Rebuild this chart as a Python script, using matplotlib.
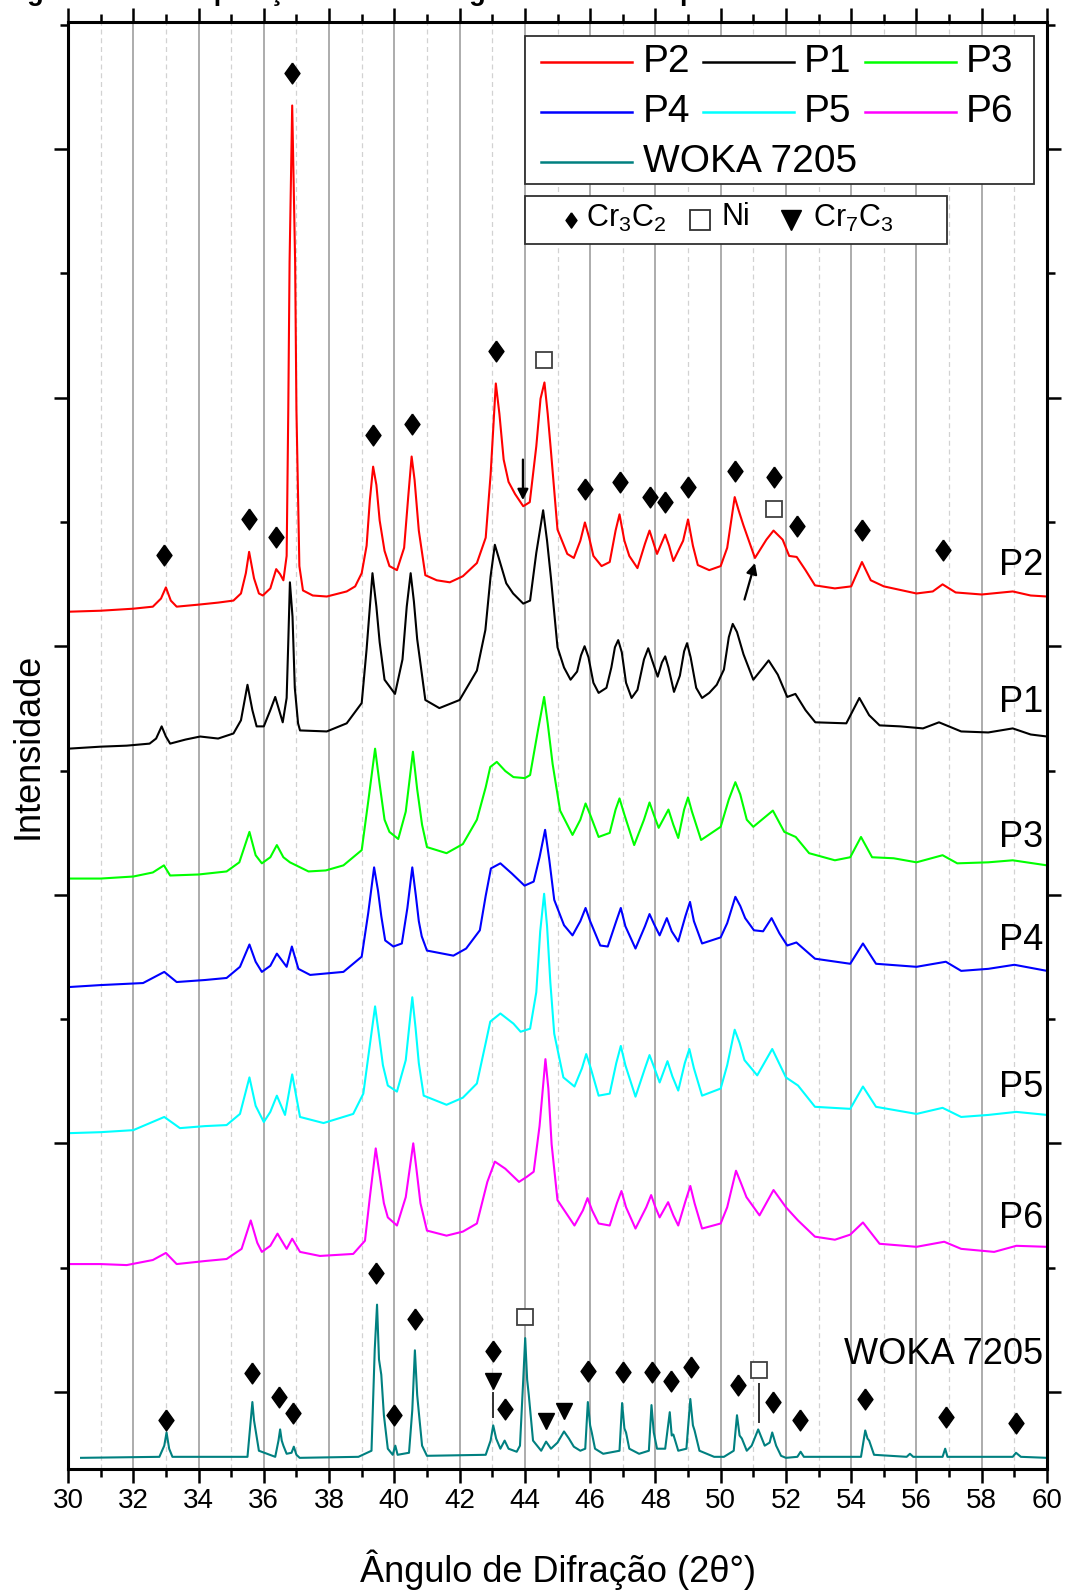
import numpy as np
import matplotlib
matplotlib.use("Agg")
import matplotlib.pyplot as plt
from matplotlib.ticker import FixedLocator, MultipleLocator, NullFormatter
from matplotlib.patches import Rectangle
from matplotlib.lines import Line2D

plt.rcParams['font.family'] = ['Liberation Sans', 'DejaVu Sans']
plt.rcParams['mathtext.fontset'] = 'custom'
plt.rcParams['mathtext.rm'] = 'Liberation Sans'
plt.rcParams['mathtext.it'] = 'Liberation Sans:italic'

# ---------------- diffraction patterns (2theta, stacked intensity a.u.) ----------------
P2 = [(30.0, 845), (31.0, 846), (32.0, 848), (32.6, 850), (32.85, 858), (33.0, 869), (33.15, 856),
      (33.33, 850), (34.0, 852), (34.6, 854), (35.07, 856), (35.3, 863), (35.45, 883), (35.55, 904),
      (35.7, 878), (35.85, 863), (35.97, 861), (36.2, 868), (36.38, 887), (36.5, 882), (36.6, 876),
      (36.7, 900), (36.75, 1044), (36.79, 1190), (36.87, 1344), (36.96, 1190), (37.0, 1044),
      (37.09, 890), (37.2, 866), (37.5, 861), (37.93, 860), (38.54, 865), (38.8, 870), (39.0, 883),
      (39.15, 910), (39.25, 955), (39.35, 988), (39.45, 970), (39.55, 935), (39.7, 905), (39.85, 890),
      (40.08, 886), (40.3, 908), (40.43, 960), (40.53, 998), (40.62, 975), (40.75, 925), (40.95, 881),
      (41.3, 876), (41.7, 874), (42.1, 880), (42.53, 893), (42.8, 918), (42.95, 980), (43.11, 1070),
      (43.22, 1040), (43.35, 995), (43.5, 973), (43.7, 961), (43.95, 949), (44.15, 953), (44.35, 1008),
      (44.48, 1055), (44.6, 1071), (44.7, 1040), (44.8, 1003), (45.0, 926), (45.3, 902), (45.5, 898),
      (45.7, 915), (45.84, 933), (45.97, 918), (46.1, 900), (46.35, 890), (46.6, 894), (46.78, 925),
      (46.9, 941), (47.05, 915), (47.2, 900), (47.45, 888), (47.68, 912), (47.82, 925), (47.95, 912),
      (48.05, 902), (48.3, 921), (48.42, 910), (48.55, 895), (48.85, 915), (49.0, 936), (49.15, 910),
      (49.3, 891), (49.65, 886), (50.0, 890), (50.2, 908), (50.43, 958), (50.55, 945), (50.7, 930),
      (51.05, 898), (51.4, 916), (51.62, 925), (51.9, 916), (52.1, 900), (52.33, 899), (52.6, 886),
      (52.89, 871), (53.5, 868), (54.0, 870), (54.33, 894), (54.6, 876), (55.0, 870), (56.0, 863),
      (56.5, 865), (56.8, 872), (57.2, 864), (58.0, 862), (58.95, 865), (59.5, 861), (60.0, 860)]

P1 = [(30.0, 710), (31.0, 712), (31.8, 713), (32.5, 715), (32.7, 720), (32.87, 732), (33.0, 722),
      (33.13, 715), (33.6, 719), (34.05, 722), (34.6, 720), (35.07, 725), (35.3, 738), (35.5, 773),
      (35.65, 748), (35.78, 732), (36.0, 732), (36.2, 748), (36.35, 761), (36.58, 736), (36.7, 760),
      (36.75, 815), (36.8, 874), (36.88, 840), (36.95, 770), (37.05, 735), (37.11, 728), (37.93, 727),
      (38.54, 735), (39.0, 755), (39.15, 808), (39.33, 883), (39.45, 850), (39.55, 815), (39.7, 778),
      (40.02, 764), (40.25, 798), (40.38, 850), (40.5, 883), (40.6, 855), (40.7, 818), (40.95, 758),
      (41.38, 750), (42.0, 758), (42.53, 787), (42.79, 827), (42.95, 880), (43.08, 911), (43.2, 898),
      (43.43, 873), (43.64, 863), (43.95, 853), (44.16, 856), (44.35, 903), (44.56, 945), (44.68, 915),
      (44.8, 878), (45.0, 810), (45.2, 790), (45.4, 778), (45.6, 786), (45.72, 802), (45.83, 811),
      (45.95, 800), (46.1, 775), (46.26, 765), (46.5, 770), (46.65, 790), (46.76, 810), (46.86, 817),
      (46.97, 805), (47.1, 775), (47.27, 760), (47.45, 768), (47.65, 798), (47.78, 809), (47.9, 797),
      (48.07, 781), (48.2, 795), (48.3, 801), (48.4, 790), (48.57, 766), (48.75, 782), (48.88, 806),
      (48.97, 814), (49.08, 800), (49.25, 770), (49.43, 760), (49.65, 765), (49.88, 773), (50.1, 788),
      (50.25, 820), (50.37, 833), (50.5, 825), (50.7, 803), (51.0, 778), (51.3, 790), (51.47, 797),
      (51.75, 783), (52.04, 761), (52.29, 764), (52.6, 748), (52.9, 736), (53.85, 735), (54.25, 760),
      (54.55, 743), (54.87, 733), (55.5, 732), (56.2, 730), (56.69, 736), (57.37, 727), (58.2, 726),
      (58.95, 730), (59.5, 724), (60.0, 722)]

P3 = [(30.0, 582), (31.0, 582), (32.0, 584), (32.6, 588), (32.94, 595), (33.13, 585), (34.0, 586),
      (34.86, 589), (35.25, 598), (35.56, 628), (35.75, 605), (35.94, 597), (36.2, 603), (36.4, 615),
      (36.6, 603), (36.8, 598), (37.37, 589), (37.9, 590), (38.44, 595), (39.0, 610), (39.2, 658),
      (39.41, 710), (39.55, 675), (39.7, 640), (39.85, 628), (40.12, 621), (40.35, 648), (40.57, 707),
      (40.7, 670), (40.85, 635), (41.0, 613), (41.6, 607), (42.1, 616), (42.53, 640), (42.8, 672),
      (42.94, 692), (43.14, 697), (43.4, 688), (43.65, 682), (44.0, 681), (44.16, 684), (44.4, 728),
      (44.59, 761), (44.7, 735), (44.85, 695), (45.08, 649), (45.46, 625), (45.7, 640), (45.86, 656),
      (46.0, 645), (46.26, 623), (46.6, 627), (46.78, 650), (46.9, 661), (47.05, 645), (47.35, 615),
      (47.65, 640), (47.82, 657), (47.95, 645), (48.1, 632), (48.4, 650), (48.55, 635), (48.7, 622),
      (48.88, 650), (49.0, 662), (49.12, 648), (49.4, 620), (50.0, 633), (50.25, 660), (50.45, 677),
      (50.6, 665), (50.8, 640), (51.0, 633), (51.6, 649), (51.95, 628), (52.3, 623), (52.71, 607),
      (53.5, 600), (53.97, 603), (54.3, 623), (54.64, 603), (55.3, 602), (56.0, 598), (56.8, 605),
      (57.25, 597), (58.2, 598), (58.95, 600), (60.0, 595)]

P4 = [(30.0, 475), (31.0, 477), (32.3, 479), (32.95, 490), (33.33, 480), (34.2, 482), (34.86, 484),
      (35.27, 495), (35.56, 517), (35.75, 500), (35.94, 490), (36.2, 496), (36.4, 508), (36.7, 495),
      (36.86, 515), (37.06, 493), (37.42, 487), (38.44, 490), (39.0, 505), (39.2, 548), (39.38, 593),
      (39.5, 570), (39.6, 545), (39.72, 521), (39.97, 515), (40.23, 518), (40.4, 553), (40.55, 593),
      (40.66, 565), (40.75, 540), (40.84, 525), (41.0, 511), (41.81, 506), (42.2, 513), (42.62, 531),
      (42.8, 565), (42.96, 592), (43.25, 597), (43.6, 587), (43.99, 575), (44.27, 579), (44.45, 603),
      (44.62, 630), (44.75, 600), (44.9, 561), (45.2, 536), (45.46, 526), (45.7, 540), (45.86, 553),
      (46.0, 540), (46.31, 516), (46.54, 515), (46.8, 540), (46.94, 553), (47.08, 535), (47.39, 513),
      (47.68, 535), (47.82, 547), (47.96, 537), (48.13, 526), (48.35, 543), (48.5, 530), (48.7, 520),
      (48.92, 545), (49.06, 559), (49.18, 540), (49.43, 518), (50.0, 524), (50.2, 538), (50.45, 564),
      (50.6, 555), (50.75, 543), (51.02, 531), (51.3, 530), (51.56, 543), (51.8, 528), (52.04, 516),
      (52.32, 519), (52.89, 503), (53.97, 498), (54.36, 518), (54.76, 498), (56.0, 495), (56.9, 500),
      (57.37, 491), (58.2, 493), (59.0, 497), (60.0, 491)]

P5 = [(30.0, 331), (31.0, 332), (32.0, 334), (32.95, 347), (33.43, 336), (34.2, 338), (34.86, 339),
      (35.27, 350), (35.56, 386), (35.75, 358), (36.0, 342), (36.2, 352), (36.4, 368), (36.65, 349),
      (36.87, 389), (37.11, 347), (37.83, 341), (38.74, 350), (39.05, 370), (39.25, 418), (39.41, 456),
      (39.52, 430), (39.65, 398), (39.8, 378), (40.08, 372), (40.35, 403), (40.55, 465), (40.65, 435),
      (40.75, 400), (40.9, 368), (41.6, 359), (42.1, 366), (42.53, 380), (42.8, 420), (42.94, 441),
      (43.25, 449), (43.65, 439), (43.87, 431), (44.16, 434), (44.35, 470), (44.47, 530), (44.59, 567),
      (44.68, 535), (44.78, 480), (44.9, 429), (45.18, 386), (45.52, 377), (45.75, 395), (45.88, 409),
      (46.02, 395), (46.26, 368), (46.6, 370), (46.8, 400), (46.94, 417), (47.08, 398), (47.39, 367),
      (47.68, 395), (47.82, 408), (47.96, 396), (48.13, 381), (48.37, 402), (48.52, 387), (48.7, 373),
      (48.9, 400), (49.04, 414), (49.18, 395), (49.43, 368), (50.0, 375), (50.2, 398), (50.43, 433),
      (50.58, 420), (50.73, 403), (51.12, 388), (51.58, 414), (52.0, 386), (52.37, 378), (52.89, 357),
      (53.97, 355), (54.36, 377), (54.76, 357), (56.0, 350), (56.8, 356), (57.37, 347), (58.2, 349),
      (59.06, 352), (60.0, 349)]

P6 = [(30.0, 202), (31.0, 202), (31.8, 201), (32.6, 206), (33.0, 213), (33.33, 202), (34.2, 205),
      (34.86, 207), (35.32, 217), (35.6, 245), (35.8, 223), (35.94, 214), (36.2, 220), (36.42, 232),
      (36.7, 217), (36.87, 227), (37.11, 214), (37.72, 210), (38.74, 212), (39.1, 225), (39.25, 268),
      (39.43, 316), (39.55, 290), (39.68, 262), (39.8, 248), (40.08, 240), (40.35, 268), (40.58, 321),
      (40.68, 295), (40.8, 262), (41.0, 235), (41.6, 230), (42.1, 234), (42.53, 242), (42.85, 283),
      (43.08, 303), (43.4, 296), (43.82, 283), (44.06, 288), (44.27, 293), (44.45, 338), (44.63, 404),
      (44.72, 375), (44.82, 320), (45.0, 265), (45.52, 240), (45.78, 255), (45.92, 267), (46.06, 255),
      (46.26, 242), (46.6, 240), (46.82, 262), (46.96, 274), (47.1, 258), (47.39, 237), (47.72, 258),
      (47.87, 270), (48.0, 258), (48.13, 248), (48.39, 263), (48.55, 250), (48.7, 240), (48.93, 265),
      (49.07, 279), (49.2, 262), (49.43, 237), (50.0, 242), (50.2, 258), (50.47, 294), (50.62, 282),
      (50.79, 268), (51.19, 250), (51.62, 275), (52.0, 258), (52.37, 245), (52.89, 229), (53.5, 226),
      (53.97, 231), (54.36, 243), (54.87, 222), (56.0, 219), (56.85, 224), (57.37, 217), (58.38, 214),
      (59.06, 220), (60.0, 219)]

WOKA = [(30.4, 11), (32.8, 12), (32.95, 23), (33.02, 36), (33.1, 20), (33.2, 12), (35.5, 12),
        (35.6, 48), (35.65, 66), (35.7, 48), (35.75, 38), (35.85, 18), (36.35, 12), (36.45, 28),
        (36.5, 39), (36.55, 28), (36.6, 23), (36.7, 15), (36.85, 16), (36.92, 22), (37.0, 14),
        (37.1, 11), (38.9, 12), (39.3, 18), (39.4, 118), (39.47, 162), (39.53, 108), (39.6, 93),
        (39.68, 53), (39.8, 20), (39.95, 14), (40.03, 23), (40.1, 14), (40.45, 16), (40.55, 58),
        (40.63, 117), (40.7, 73), (40.75, 56), (40.85, 23), (41.0, 13), (42.8, 14), (42.95, 28),
        (43.03, 43), (43.12, 30), (43.25, 20), (43.38, 28), (43.5, 20), (43.75, 17), (43.85, 23),
        (43.95, 88), (44.01, 129), (44.07, 88), (44.12, 73), (44.25, 28), (44.5, 18), (44.65, 27),
        (44.8, 20), (45.0, 26), (45.2, 37), (45.35, 30), (45.5, 22), (45.7, 18), (45.85, 20),
        (45.93, 66), (46.0, 43), (46.05, 36), (46.15, 20), (46.4, 15), (46.9, 18), (46.98, 65),
        (47.05, 40), (47.1, 36), (47.2, 20), (47.5, 15), (47.8, 18), (47.88, 63), (47.95, 36),
        (48.05, 20), (48.3, 20), (48.44, 56), (48.5, 33), (48.55, 34), (48.7, 18), (48.95, 20),
        (49.07, 69), (49.15, 43), (49.2, 38), (49.35, 18), (49.8, 12), (50.1, 12), (50.4, 18),
        (50.5, 53), (50.58, 33), (50.65, 30), (50.8, 18), (50.95, 23), (51.15, 39), (51.35, 23),
        (51.5, 26), (51.58, 36), (51.7, 23), (51.85, 13), (52.0, 11), (52.35, 12), (52.45, 17),
        (52.55, 12), (54.3, 12), (54.43, 38), (54.5, 30), (54.55, 28), (54.7, 14), (55.7, 12),
        (55.8, 15), (55.9, 12), (56.8, 12), (56.88, 20), (56.95, 12), (58.95, 12), (59.05, 16),
        (59.2, 12), (60.0, 11)]

samples = ['P2', 'P1', 'P3', 'P4', 'P5', 'P6', 'WOKA 7205']
patterns = [P2, P1, P3, P4, P5, P6, WOKA]
colors = ['#ff0000', '#000000', '#00ff00', '#0000ff', '#00ffff', '#ff00ff', '#008080']
label_levels = [891, 756, 622, 521, 376, 247, 113]

# ---------------- phase identification marks (2theta, mark height) ----------------
p2_cr3c2 = [(32.94, 901), (35.55, 936), (36.38, 919), (36.87, 1376), (39.35, 1019), (40.53, 1030),
            (43.12, 1102), (45.84, 966), (46.9, 973), (47.82, 958), (48.3, 953), (49.0, 968),
            (50.43, 984), (51.62, 978), (52.33, 930), (54.33, 926), (56.8, 906)]
p2_ni = [(44.6, 1093), (51.62, 946)]
woka_cr3c2 = [(33.0, 48), (35.65, 95), (36.47, 71), (36.9, 55), (39.45, 193), (40.0, 53), (40.63, 148),
              (43.03, 116), (43.4, 59), (45.94, 97), (47.0, 96), (47.89, 96), (48.47, 87), (49.1, 101),
              (50.53, 83), (51.6, 66), (52.44, 48), (54.42, 69), (56.89, 51), (59.06, 45)]
woka_ni = [(44.0, 150), (51.16, 98)]
woka_cr7c3 = [(43.03, 87), (44.64, 47), (45.19, 57)]
leaders = [(43.03, 75, 51), (51.16, 84, 46)]
arrows = [((43.94, 995), (43.94, 955)), ((50.73, 857), (51.05, 893))]

# ---------------- figure ----------------
W, H = 1066, 1591
fig = plt.figure(figsize=(W / 100, H / 100), dpi=100)
ax = fig.add_axes([68 / W, 1 - 1469 / H, 979 / W, 1446.7 / H])
ax.set_xlim(30, 60)
ax.set_ylim(0, 1426)

ax.xaxis.set_major_locator(MultipleLocator(2))
ax.xaxis.set_minor_locator(MultipleLocator(1))
ax.yaxis.set_major_locator(FixedLocator(np.arange(76, 1427, 245)))
ax.yaxis.set_minor_locator(FixedLocator(np.arange(198.5, 1427, 245)))
ax.yaxis.set_major_formatter(NullFormatter())
ax.tick_params(which='both', direction='out', top=True, right=True, width=1.8, color='black')
ax.tick_params(which='major', length=10, labelsize=20, pad=4)
ax.tick_params(which='minor', length=6)
for s in ax.spines.values():
    s.set_linewidth(2.2)

ax.set_axisbelow(True)
ax.grid(which='major', axis='x', color='#a6a6a6', lw=1.3)
ax.grid(which='minor', axis='x', color='#d2d2d2', lw=0.9, ls=(0, (4, 3)))

for pat, col in zip(patterns, colors):
    tt, inten = zip(*pat)
    ax.plot(tt, inten, color=col, lw=1.5, solid_joinstyle='round')

for name, lvl in zip(samples, label_levels):
    ax.text(59.88, lvl, name, ha='right', va='center', fontsize=26)

diamond = [(0, 1), (0.72, 0), (0, -1), (-0.72, 0), (0, 1)]
for grp in (p2_cr3c2, woka_cr3c2):
    x, y = zip(*grp)
    ax.plot(x, y, ls='none', marker=diamond, ms=15, mfc='black', mec='black')
for grp in (p2_ni, woka_ni):
    x, y = zip(*grp)
    ax.plot(x, y, ls='none', marker='s', ms=12, mfc='white', mec='#404040', mew=1.3)
x, y = zip(*woka_cr7c3)
ax.plot(x, y, ls='none', marker='v', ms=12, mfc='black', mec='black')
for xv, y0, y1 in leaders:
    ax.plot([xv, xv], [y0, y1], color='#303030', lw=1.4)
for start, end in arrows:
    ax.annotate('', xy=end, xytext=start,
                arrowprops=dict(arrowstyle='-|>', color='black', lw=1.6,
                                mutation_scale=16, shrinkA=0, shrinkB=0))

ax.set_xlabel('Ângulo de Difração (2θ°)', fontsize=26, labelpad=25)
ax.set_ylabel('Intensidade', fontsize=26, labelpad=2)

# ---------------- sample legend (three columns, WOKA on its own row) ----------------
ax.add_patch(Rectangle((0.467, 0.888), 0.520, 0.1025, transform=ax.transAxes,
                       fill=True, facecolor='white', edgecolor='#303030', lw=1.3, zorder=5))
rows = [0.9724, 0.9383, 0.9036]
cols = [(0.4832, 0.5761, 0.5869), (0.6484, 0.7416, 0.7518), (0.8138, 0.9071, 0.9173)]
for i, (name, col) in enumerate(zip(samples, colors)):
    r, c = divmod(i, 3)
    x0, x1, xt = cols[c]
    ax.add_line(Line2D([x0, x1], [rows[r], rows[r]], color=col, lw=1.8,
                       transform=ax.transAxes, zorder=6))
    ax.text(xt, rows[r], name, transform=ax.transAxes, ha='left', va='center',
            fontsize=28, zorder=6)

# ---------------- phase legend ----------------
ax.add_patch(Rectangle((0.4673, 0.8467), 0.4302, 0.0333, transform=ax.transAxes,
                       fill=True, facecolor='white', edgecolor='#303030', lw=1.3, zorder=5))
yk = 0.8636
ax.plot([0.5138], [yk], transform=ax.transAxes, ls='none', marker=diamond, ms=11,
        mfc='black', mec='black', zorder=6, clip_on=False)
ax.text(0.5290, yk + 0.001, r'Cr$_3$C$_2$', transform=ax.transAxes, ha='left', va='center',
        fontsize=22, zorder=6)
ax.plot([0.6456], [yk], transform=ax.transAxes, ls='none', marker='s', ms=15,
        mfc='white', mec='#303030', mew=1.3, zorder=6, clip_on=False)
ax.text(0.6680, yk + 0.002, 'Ni', transform=ax.transAxes, ha='left', va='center', fontsize=22,
        zorder=6)
ax.plot([0.7390], [yk], transform=ax.transAxes, ls='none', marker='v', ms=15,
        mfc='black', mec='black', zorder=6, clip_on=False)
ax.text(0.7610, yk + 0.001, r'Cr$_7$C$_3$', transform=ax.transAxes, ha='left', va='center',
        fontsize=22, zorder=6)

# caption of the figure, running above the page edge
fig.text(3 / W, 1.0, 'Figura 43 – Composição de fases segundo DRX dos pós',
         fontsize=19.5, fontweight='bold', ha='left', va='baseline')

fig.savefig('out.png', dpi=100)
